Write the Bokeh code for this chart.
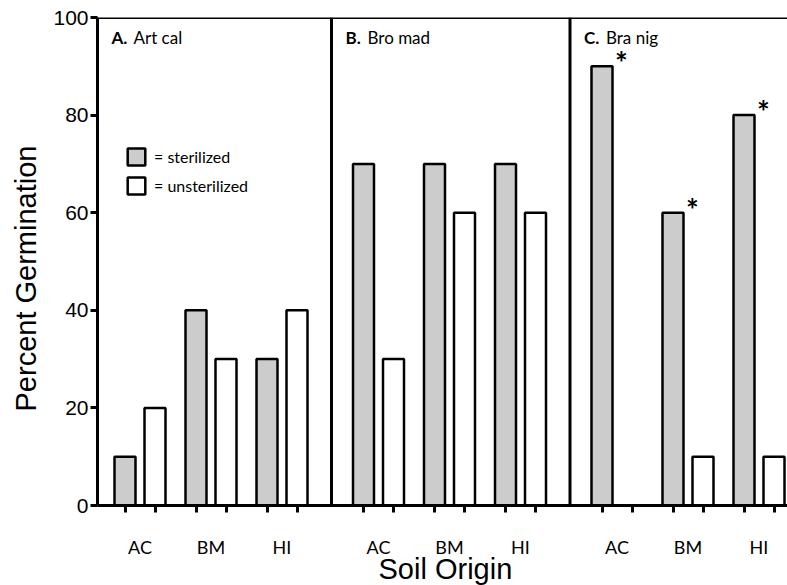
from bokeh.plotting import figure
from bokeh.models import (Range1d, FixedTicker, Span, LabelSet, Legend, LegendItem,
                          ColumnDataSource, Title)
from bokeh.core.properties import value
from bokeh.embed import file_html
from bokeh.resources import INLINE

# ---------------- data ----------------
panel_letters = ["A.", "B.", "C."]
species = ["Art cal", "Bro mad", "Bra nig"]
soils = ["AC", "BM", "HI"]
sterilized = [[10, 40, 30], [70, 70, 70], [90, 60, 80]]
unsterilized = [[20, 30, 40], [30, 60, 60], [0, 10, 10]]
significant = [[False, False, False], [False, False, False], [True, True, True]]
y_ticks = [0, 20, 40, 60, 80, 100]

# ---------------- layout constants ----------------
PW = 238.5      # panel width (data units)
FIRST = 27.5    # first bar centre from panel start
G = 71          # spacing between soil groups
T = 30          # spacing between the two bars of a pair
BW = 21         # bar width
GRAY = "#cccccc"

ster_x, ster_top, unst_x, unst_top, centres, labels = [], [], [], [], [], []
star_x, star_y = [], []
for i in range(3):
    for g in range(3):
        x0 = i * PW + FIRST + g * G
        ster_x.append(x0)
        ster_top.append(sterilized[i][g])
        unst_x.append(x0 + T)
        unst_top.append(unsterilized[i][g])
        centres.append(x0 + T / 2)
        labels.append(soils[g])
        if significant[i][g]:
            star_x.append(x0)
            star_y.append(sterilized[i][g])

dividers = [i * PW - 4.5 for i in range(1, 3)]
panel_left = [0.0] + dividers

p = figure(width=787, height=585, x_range=Range1d(0, 690), y_range=Range1d(0, 100),
           output_backend="svg", toolbar_location=None, title=None,
           min_border_left=97, min_border_right=0, min_border_top=17,
           min_border_bottom=80)
p.xgrid.visible = False
p.ygrid.visible = False
p.outline_line_color = None
p.background_fill_color = "white"
p.border_fill_color = "white"

r_ster = p.vbar(x=ster_x, top=ster_top, bottom=0, width=BW, fill_color=GRAY,
                line_color="black", line_width=2.5)
r_unst = p.vbar(x=unst_x, top=unst_top, bottom=0, width=BW, fill_color="white",
                line_color="black", line_width=2.5)

# frame lines
p.add_layout(Span(location=100, dimension="width", line_color="black", line_width=3))
for d in dividers:
    p.add_layout(Span(location=d, dimension="height", line_color="black", line_width=3))

# x axis
xa = p.xaxis[0]
xa.ticker = FixedTicker(ticks=centres, minor_ticks=ster_x + unst_x)
xa.major_label_overrides = {c: l for c, l in zip(centres, labels)}
xa.major_tick_line_color = None
xa.major_tick_out = 0
xa.major_tick_in = 0
xa.minor_tick_line_color = "black"
xa.minor_tick_line_width = 3
xa.minor_tick_out = 7
xa.minor_tick_in = 0
xa.axis_line_width = 3
xa.axis_line_color = "black"
xa.major_label_text_font = "Lato"
xa.major_label_text_font_size = "18px"
xa.major_label_text_color = "black"
xa.major_label_standoff = 23

# y axis
ya = p.yaxis[0]
ya.ticker = FixedTicker(ticks=y_ticks)
ya.axis_line_width = 3
ya.axis_line_color = "black"
ya.major_tick_line_width = 3
ya.major_tick_line_color = "black"
ya.major_tick_out = 7
ya.major_tick_in = 0
ya.minor_tick_line_color = None
ya.major_label_text_font = "Liberation Sans"
ya.major_label_text_font_size = "21px"
ya.major_label_text_color = "black"
ya.major_label_standoff = 2

# axis titles
p.add_layout(Title(text="Percent Germination", align="left", offset=94,
                   vertical_align="top", standoff=14, text_font="Liberation Sans",
                   text_font_size="29px", text_font_style="normal",
                   text_color="black"), "left")
p.add_layout(Title(text="Soil Origin", align="left", offset=281,
                   vertical_align="top", standoff=-15, text_font="Liberation Sans",
                   text_font_size="29px", text_font_style="normal",
                   text_color="black"), "below")

# panel titles
src_t = ColumnDataSource(dict(x=panel_left, y=[100] * 3, l=panel_letters, s=species))
p.add_layout(LabelSet(source=src_t, x="x", y="y", text="l", x_offset=14, y_offset=-26.5,
                      text_font=value("Lato"), text_font_style="bold",
                      text_font_size=value("17px"), text_color="black",
                      text_baseline="alphabetic"))
p.add_layout(LabelSet(source=src_t, x="x", y="y", text="s", x_offset=36, y_offset=-26.5,
                      text_font=value("Lato"), text_font_size=value("17px"),
                      text_color="black", text_baseline="alphabetic"))

# significance asterisks
src_s = ColumnDataSource(dict(x=star_x, y=star_y, t=["*"] * len(star_x)))
p.add_layout(LabelSet(source=src_s, x="x", y="y", text="t", x_offset=19.5, y_offset=-8,
                      text_font=value("Lato"), text_font_style="bold",
                      text_font_size=value("30px"), text_color="black",
                      text_align="center", text_baseline="alphabetic"))

# legend
legend = Legend(items=[LegendItem(label="= sterilized", renderers=[r_ster]),
                       LegendItem(label="= unsterilized", renderers=[r_unst])],
                location=(28, 309), glyph_width=22, glyph_height=21, label_height=21,
                spacing=8, padding=0, margin=0, label_standoff=7,
                border_line_color=None, background_fill_alpha=0,
                label_text_font="Lato", label_text_font_size="16px",
                label_text_color="black")
p.add_layout(legend)

open("out.html", "w").write(file_html(p, INLINE))
